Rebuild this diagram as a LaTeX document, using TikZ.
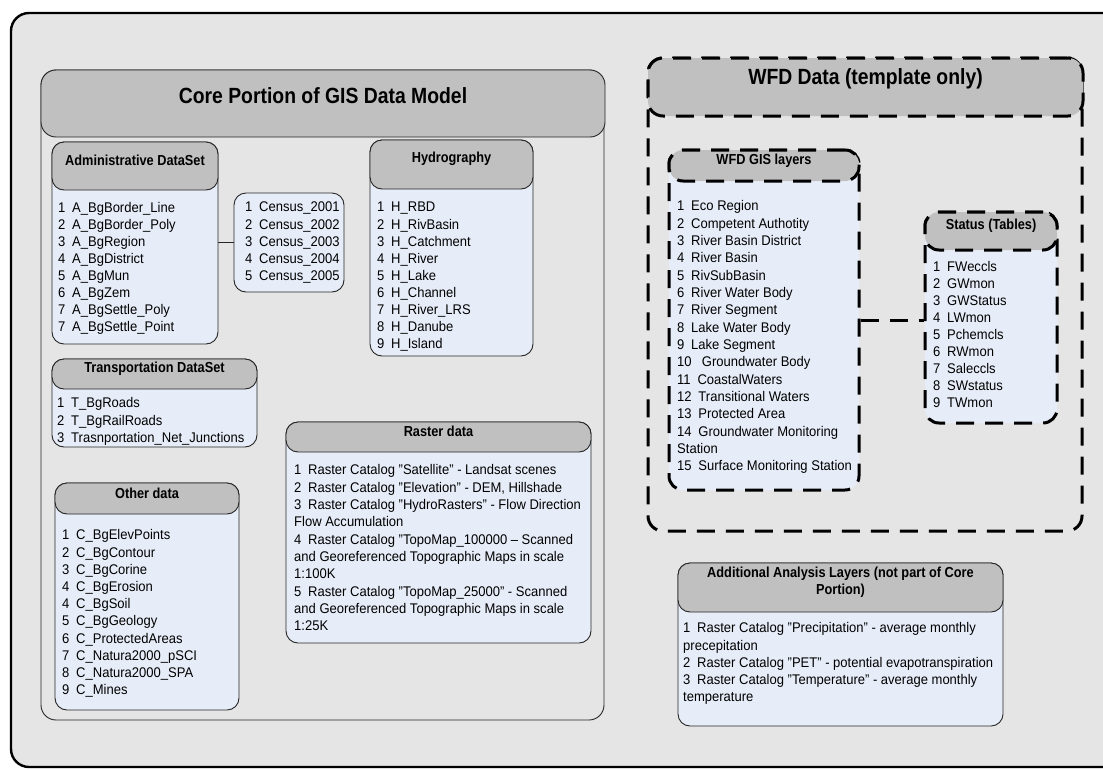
\documentclass[tikz,border=0pt]{standalone}
\usepackage{fontspec}
\setmainfont{Liberation Sans}
\usetikzlibrary{fit}
\definecolor{framebg}{RGB}{229,229,229}
\definecolor{hdrgray}{RGB}{192,192,192}
\definecolor{listblue}{RGB}{231,237,248}
% number of a list entry followed by its gap
\newcommand\nm[1]{#1\hspace{7.3pt}}
% slightly condensed text
\newcommand\sqz[1]{\scalebox{0.93}[1]{#1}}
\newcommand\hsqz[1]{\scalebox{0.88}[1]{#1}}
% a column of list entries: name, x, y of first line, line step, entries
\newcommand\itemlist[5]{%
  \foreach [count=\ix] \txt in {#5}
    \node[item] (#1-\ix) at (#2,{#3+#4*(\ix-1)+4.9}) {\sqz{\txt}};%
}
\tikzset{
  item/.style={anchor=base west, inner sep=0pt, font=\fontsize{14}{17}\selectfont},
  frame/.style={draw=black, line width=2.4pt, fill=framebg, rounded corners=18pt, inner sep=0pt},
  corebody/.style={draw=black!85, line width=0.9pt, fill=framebg, rounded corners=15pt, inner sep=0pt},
  hdrbox/.style={draw=black!85, line width=0.9pt, fill=hdrgray, rounded corners=12pt, inner sep=0pt,
    font=\fontsize{14.5}{17}\selectfont\bfseries, align=center},
  listbox/.style={draw=black!85, line width=0.9pt, fill=listblue, rounded corners=12pt, inner sep=0pt},
  wfdline/.style={line width=3pt, dash pattern=on 18pt off 11pt},
  titlefont/.style={font=\fontsize{22}{26}\selectfont\bfseries},
  conn/.style={draw=black!85, line width=0.9pt},
}
\begin{document}
\begin{tikzpicture}[x=1pt,y=-1pt]
\useasboundingbox (0,0) rectangle (1103,769);
\clip (0,0) rectangle (1103,769);
\fill[white] (0,0) rectangle (1103,769);
\node[frame, fit={(11,13)(1125,767)}] (frame) {};

% ---------------- core portion ----------------
\node[corebody, fit={(41,70)(604,720)}] (core) {};
\node[hdrbox, rounded corners=15pt, titlefont, fit={(41,70)(605,137)}] (coreh) {\hsqz{Core Portion of GIS Data Model}};

% administrative
\node[listbox, fit={(52,142)(218,344)}] (adm) {};
\node[hdrbox, fit={(52,142)(218,190)}] (admh) {\hsqz{Administrative DataSet}};
\itemlist{adm}{58}{208}{17}{{\nm1A\_BgBorder\_Line},{\nm2A\_BgBorder\_Poly},{\nm3A\_BgRegion},{\nm4A\_BgDistrict},{\nm5A\_BgMun},{\nm6A\_BgZem},{\nm7A\_BgSettle\_Poly},{\nm7A\_BgSettle\_Point}}

% census
\node[listbox, fit={(234,193)(344,292)}] (cen) {};
\itemlist{cen}{245}{207}{17.1}{{\nm1Census\_2001},{\nm2Census\_2002},{\nm3Census\_2003},{\nm4Census\_2004},{\nm5Census\_2005}}
\draw[conn] (cen.west) -- (cen.west -| adm.east);

% hydrography
\node[listbox, fit={(370,140)(533,356)}] (hyd) {};
\node[hdrbox, fit={(370,140)(533,189)}] (hydh) {\hsqz{Hydrography}};
\itemlist{hyd}{377}{207}{17.1}{{\nm1H\_RBD},{\nm2H\_RivBasin},{\nm3H\_Catchment},{\nm4H\_River},{\nm5H\_Lake},{\nm6H\_Channel},{\nm7H\_River\_LRS},{\nm8H\_Danube},{\nm9H\_Island}}

% transportation
\node[listbox, fit={(52,359)(257,447)}] (trn) {};
\node[hdrbox, fit={(52,359)(257,389)}] (trnh) {\hsqz{Transportation DataSet}};
\itemlist{trn}{57}{403}{17.5}{{\nm1T\_BgRoads},{\nm2T\_BgRailRoads},{\nm3Trasnportation\_Net\_Junctions}}

% other data
\node[listbox, fit={(55,483)(239,710)}] (oth) {};
\node[hdrbox, fit={(55,483)(239,514)}] (othh) {\hsqz{Other data}};
\itemlist{oth}{62}{535}{17.2}{{\nm1C\_BgElevPoints},{\nm2C\_BgContour},{\nm3C\_BgCorine},{\nm4C\_BgErosion},{\nm4C\_BgSoil},{\nm5C\_BgGeology},{\nm6C\_ProtectedAreas},{\nm7C\_Natura2000\_pSCI},{\nm8C\_Natura2000\_SPA},{\nm9C\_Mines}}

% raster data
\node[listbox, fit={(286,422)(591,643)}] (ras) {};
\node[hdrbox, fit={(286,422)(591,452)}] (rash) {\hsqz{Raster data}};
\itemlist{ras}{294}{470}{17.3}{{\nm1Raster Catalog "Satellite" - Landsat scenes},{\nm2Raster Catalog "Elevation" - DEM, Hillshade},{\nm3Raster Catalog "HydroRasters" - Flow Direction},{Flow Accumulation},{\nm4Raster Catalog "TopoMap\_100000 – Scanned},{and Georeferenced Topographic Maps in scale},{1:100K},{\nm5Raster Catalog "TopoMap\_25000" - Scanned},{and Georeferenced Topographic Maps in scale},{1:25K}}

% ---------------- WFD data ----------------
\node[wfdline, draw, rounded corners=15pt, inner sep=0pt, fit={(648,58)(1082,531)}] (wfd) {};
\node[wfdline, draw, fill=hdrgray, rounded corners=15pt, inner sep=0pt, titlefont, fit={(648,58)(1083,116)}] (wfdh) {\hsqz{WFD Data (template only)}};

% WFD GIS layers
\node[wfdline, draw, fill=listblue, rounded corners=14pt, inner sep=0pt, fit={(669,150)(859,490)}] (gis) {};
\node[wfdline, draw, fill=hdrgray, rounded corners=14pt, inner sep=0pt, font=\fontsize{14.5}{17}\selectfont\bfseries, fit={(669,150)(859,181)}] (gish) {\hsqz{WFD GIS layers}};
\itemlist{gis}{677}{206}{17.33}{{\nm1Eco Region},{\nm2Competent Authotity},{\nm3River Basin District},{\nm4River Basin},{\nm5RivSubBasin},{\nm6River Water Body},{\nm7River Segment},{\nm8Lake Water Body},{\nm9Lake Segment},{10\hspace{11pt}Groundwater Body},{\nm{11}CoastalWaters},{\nm{12}Transitional Waters},{\nm{13}Protected Area},{\nm{14}Groundwater Monitoring},{Station},{\nm{15}Surface Monitoring Station}}

% status tables
\node[wfdline, draw, fill=listblue, rounded corners=14pt, inner sep=0pt, fit={(925,212)(1057,423)}] (st) {};
\node[wfdline, draw, fill=hdrgray, rounded corners=14pt, inner sep=0pt, font=\fontsize{14.5}{17}\selectfont\bfseries, fit={(925,212)(1057,250)}] (sth) {\hsqz{Status (Tables)}};
\itemlist{st}{933}{267}{17}{{\nm1FWeccls},{\nm2GWmon},{\nm3GWStatus},{\nm4LWmon},{\nm5Pchemcls},{\nm6RWmon},{\nm7Saleccls},{\nm8SWstatus},{\nm9TWmon}}
\draw[wfdline] (gis.east) -- (gis.east -| st.west);

% additional analysis layers
\node[listbox, fit={(678,563)(1003,726)}] (add) {};
\node[hdrbox, font=\fontsize{14.5}{17}\selectfont\bfseries, fit={(678,563)(1003,612)}] (addh) {\hsqz{Additional Analysis Layers (not part of Core}\\\hsqz{Portion)}};
\itemlist{add}{683}{628}{17.2}{{\nm1Raster Catalog "Precipitation" - average monthly},{precepitation},{\nm2Raster Catalog "PET" - potential evapotranspiration},{\nm3Raster Catalog "Temperature" - average monthly},{temperature}}
\end{tikzpicture}
\end{document}
